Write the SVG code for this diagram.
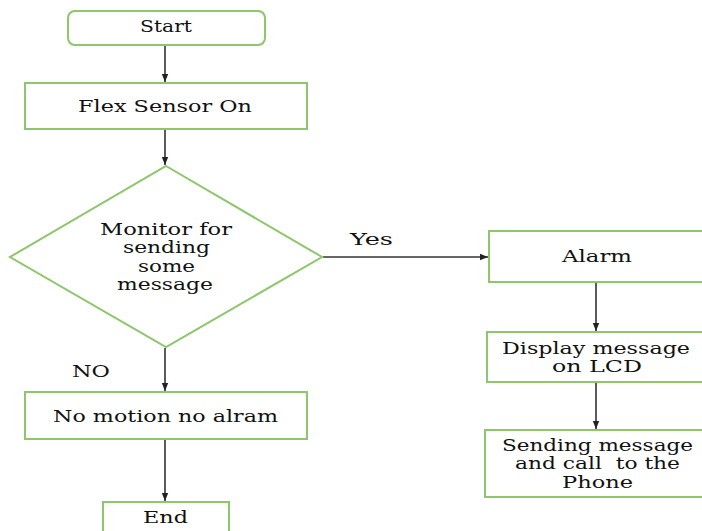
<svg xmlns="http://www.w3.org/2000/svg" width="702" height="531" viewBox="0 0 702 531">
<style>
.box{fill:#fff;stroke:#8dc66b;stroke-width:2}
.t{font-family:'DejaVu Serif','Liberation Serif',serif;font-size:17px;fill:#111}
.m{font-size:16px}
.c{stroke:#333;stroke-width:1.6;fill:none;marker-end:url(#ah)}
</style>
<defs>
<marker id="ah" viewBox="0 0 10 10" refX="10" refY="5" markerWidth="8" markerHeight="8" markerUnits="userSpaceOnUse" orient="auto">
<path d="M0,1 L10,5 L0,9 z" fill="#222"/>
</marker>
</defs>
<rect width="702" height="531" fill="#fff"/>
<g id="connectors">
<line class="c" x1="165" y1="46" x2="165" y2="82"/>
<line class="c" x1="165" y1="130" x2="165" y2="165"/>
<line class="c" x1="323" y1="257" x2="488" y2="257"/>
<line class="c" x1="165" y1="348" x2="165" y2="391"/>
<line class="c" x1="165" y1="440" x2="165" y2="501"/>
<line class="c" x1="596" y1="283" x2="596" y2="331"/>
<line class="c" x1="596" y1="383" x2="596" y2="429"/>
<text class="t" x="350" y="245" textLength="43" lengthAdjust="spacingAndGlyphs">Yes</text>
<text class="t" x="72" y="377" textLength="38" lengthAdjust="spacingAndGlyphs">NO</text>
</g>
<g id="start">
<rect class="box" x="68" y="11" width="197" height="34" rx="7"/>
<text class="t" x="140" y="32" textLength="52" lengthAdjust="spacingAndGlyphs">Start</text>
</g>
<g id="flex">
<rect class="box" x="25" y="83" width="282" height="46"/>
<text class="t" x="78" y="112" textLength="174" lengthAdjust="spacingAndGlyphs">Flex Sensor On</text>
</g>
<g id="monitor">
<polygon class="box" points="166,166 322,257 166,347 10,257"/>
<text class="t m" x="100" y="235" textLength="132" lengthAdjust="spacingAndGlyphs">Monitor for</text>
<text class="t m" x="123" y="253" textLength="87" lengthAdjust="spacingAndGlyphs">sending</text>
<text class="t m" x="138" y="272" textLength="57" lengthAdjust="spacingAndGlyphs">some</text>
<text class="t m" x="117" y="290" textLength="96" lengthAdjust="spacingAndGlyphs">message</text>
</g>
<g id="nomotion">
<rect class="box" x="25" y="392" width="282" height="47"/>
<text class="t" x="53" y="422" textLength="225" lengthAdjust="spacingAndGlyphs">No motion no alram</text>
</g>
<g id="end">
<rect class="box" x="103" y="502" width="126" height="40"/>
<text class="t" x="143" y="523" textLength="45" lengthAdjust="spacingAndGlyphs">End</text>
</g>
<g id="alarm">
<rect class="box" x="489" y="231" width="230" height="51"/>
<text class="t" x="562" y="262" textLength="70" lengthAdjust="spacingAndGlyphs">Alarm</text>
</g>
<g id="display">
<rect class="box" x="487" y="332" width="232" height="50"/>
<text class="t m" x="502" y="354" textLength="188" lengthAdjust="spacingAndGlyphs">Display message</text>
<text class="t m" x="552" y="372" textLength="90" lengthAdjust="spacingAndGlyphs">on LCD</text>
</g>
<g id="sending">
<rect class="box" x="485" y="430" width="234" height="67"/>
<text class="t m" x="502" y="451" textLength="191" lengthAdjust="spacingAndGlyphs">Sending message</text>
<text class="t m" x="515" y="469" textLength="165" lengthAdjust="spacingAndGlyphs" xml:space="preserve">and call  to the</text>
<text class="t m" x="562" y="488" textLength="71" lengthAdjust="spacingAndGlyphs">Phone</text>
</g>
</svg>
